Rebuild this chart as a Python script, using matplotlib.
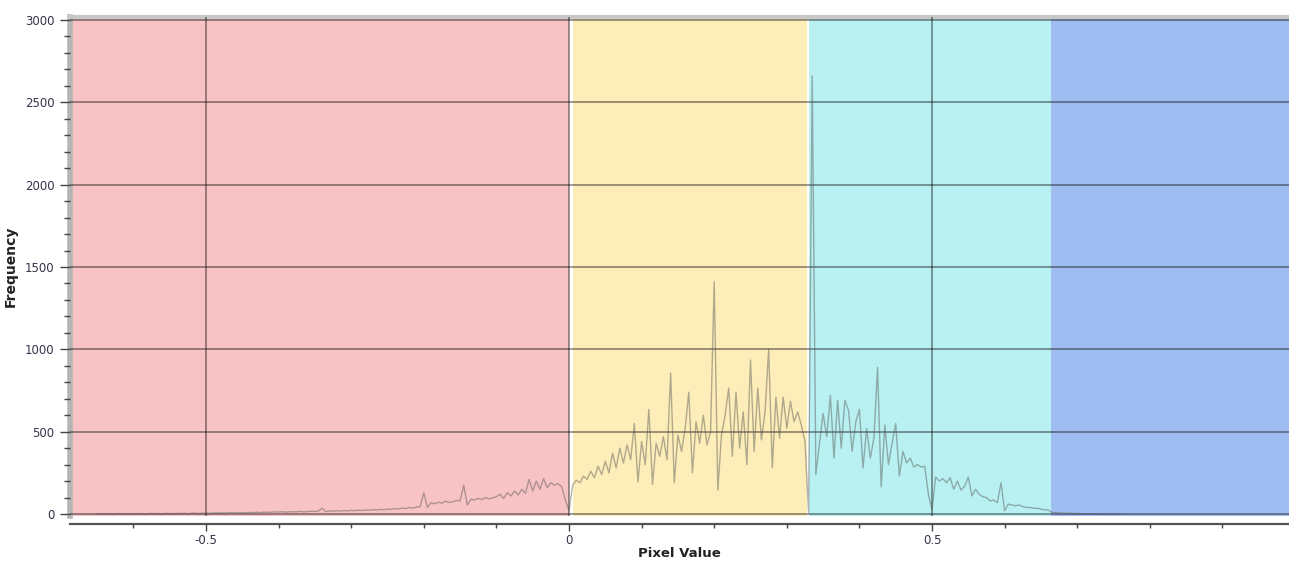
import numpy as np
import matplotlib
matplotlib.use("Agg")
import matplotlib.pyplot as plt
from matplotlib.ticker import MultipleLocator, FixedLocator, FixedFormatter

# ---------------- data ----------------
bin_start = -0.65
bin_width = 0.005

counts_red = [
    0, 1, 0, 2, 1, 0, 3, 1, 2, 0, 2, 1, 3, 2, 1, 4, 2, 3, 1, 4,
    3, 2, 4, 3, 5, 2, 4, 6, 3, 5,
    6, 4, 7, 5, 8, 6, 7, 9, 6, 8,
    9, 7, 10, 8, 11, 9, 12, 10, 11, 13,
    12, 14, 11, 15, 13, 14, 16, 13, 15, 17,
    16, 18, 36, 14, 19, 17, 20, 18, 21, 19,
    22, 20, 24, 21, 25, 23, 27, 24, 28, 26,
    30, 28, 33, 31, 36, 33, 40, 36, 42, 45,
    130, 40, 68, 62, 72, 66, 78, 70, 75, 82,
    80, 175, 55, 90, 85, 95, 88, 100, 92, 98,
    105, 120, 95, 130, 110, 140, 115, 150, 125, 210,
    140, 200, 150, 215, 160, 190, 175, 185, 165, 85,
]
counts_yellow = [
    20,
    175, 205, 190, 230, 210, 260, 220, 290, 240, 320,
    250, 370, 280, 400, 310, 420, 330, 550, 195, 440,
    300, 635, 180, 430, 350, 470, 330, 855, 190, 480,
    380, 520, 740, 250, 560, 430, 600, 420, 500, 1410,
    145, 480, 600, 765, 350, 740, 400, 620, 300, 935,
    380, 765, 450, 620, 1000, 280, 710, 460, 710, 520,
    685, 560, 620, 540, 440,
]
counts_cyan = [
    10, 2660, 240, 430, 610, 470, 720, 340, 690, 400,
    690, 630, 380, 560, 635, 280, 520, 340, 460, 890,
    165, 540, 300, 430, 550, 230, 380, 310, 340, 285,
    300, 285, 290, 120, 25, 225, 200, 215, 190, 220,
    150, 200, 145, 170, 225, 110, 150, 120, 105, 100,
    80, 85, 70, 190, 20, 60, 55, 50, 55, 45,
    40, 40, 35, 35, 30, 25, 25,
]
counts_blue = [
    10, 8, 6, 5, 5, 4, 3, 3, 2, 2, 2, 1, 1, 1, 0, 1, 0, 0, 0, 0,
]

region_edges = [-0.6873, 0.0, 0.329, 0.664, 0.9917]
region_colors = ["#F8C3C5", "#FDEDB8", "#B9F0F1", "#A0BDF1"]

y_major_ticks = [0, 500, 1000, 1500, 2000, 2500, 3000]
x_major_ticks = [-0.5, 0.0, 0.5]
x_tick_labels = ["-0.5", "0", "0.5"]

# ---------------- plot ----------------
counts = np.array(counts_red + counts_yellow + counts_cyan + counts_blue, dtype=float)
x = bin_start + bin_width * np.arange(len(counts))

fig = plt.figure(figsize=(12.89, 5.65), dpi=100)
ax = fig.add_axes([70 / 1289, 49 / 565, 1 - 70 / 1289, (516 - 17) / 565])

for i, c in enumerate(region_colors):
    ax.axvspan(region_edges[i], region_edges[i + 1], color=c, lw=0, zorder=0)
# thin white separators between regions
ax.axvline(region_edges[1] + 0.003, color="white", lw=3, zorder=1)
ax.axvline(region_edges[2], color="white", lw=1.5, zorder=1)

ax.plot(x, counts, color="#555555", alpha=0.45, lw=1.0, zorder=3)

ax.set_xlim(region_edges[0], region_edges[-1])
ax.set_ylim(-12, 3018)

ax.yaxis.set_major_locator(FixedLocator(y_major_ticks))
ax.yaxis.set_minor_locator(MultipleLocator(100))
ax.xaxis.set_major_locator(FixedLocator(x_major_ticks))
ax.xaxis.set_major_formatter(FixedFormatter(x_tick_labels))
ax.xaxis.set_minor_locator(MultipleLocator(0.1))

ax.grid(True, which="major", color="black", alpha=0.42, lw=1.3, zorder=2)
ax.set_axisbelow(False)
for gl in ax.get_xgridlines() + ax.get_ygridlines():
    gl.set_zorder(2)

ax.spines["right"].set_visible(False)
ax.spines["top"].set_color("#C8C8C8")
ax.spines["top"].set_linewidth(3)
ax.spines["left"].set_color("#B5B5B5")
ax.spines["left"].set_linewidth(4)
ax.spines["bottom"].set_position(("outward", 6))
ax.spines["bottom"].set_color("#555555")
ax.spines["bottom"].set_linewidth(1.6)

ax.tick_params(axis="y", which="major", length=7, width=1, color="#444444",
               labelsize=8.5, labelcolor="#33334a", pad=4)
ax.tick_params(axis="y", which="minor", length=4, width=1, color="#444444")
ax.tick_params(axis="x", which="major", length=5, width=1, color="#444444",
               labelsize=8.5, labelcolor="#33334a", pad=2)
ax.tick_params(axis="x", which="minor", length=3, width=1, color="#444444")

ax.set_xlabel("Pixel Value", fontsize=9.5, fontweight="bold", color="#222222", labelpad=0)
ax.set_ylabel("Frequency", fontsize=10, fontweight="bold", color="#222222", labelpad=5)

fig.savefig("out.png", dpi=100)
